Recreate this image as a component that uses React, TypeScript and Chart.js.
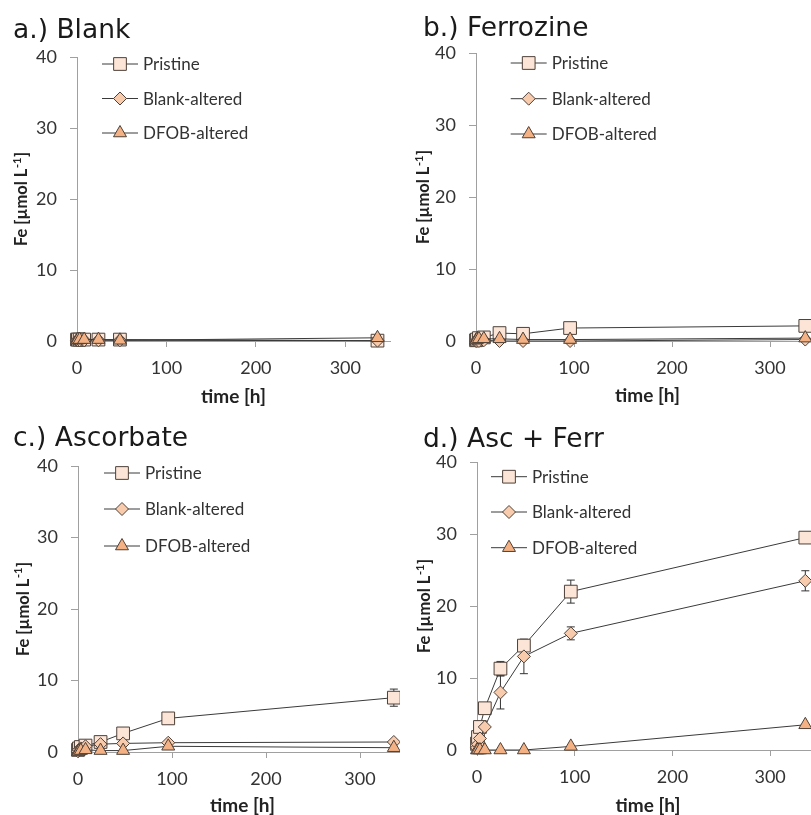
import React, { useEffect, useRef } from 'react';
import { Chart, registerables } from 'chart.js';

Chart.register(...registerables);

// ---------- data ----------
const times = [0, 1, 3, 8, 24, 48, 96, 336];
const xTickValues = [0, 100, 200, 300];
const yTickValues = [0, 10, 20, 30, 40];
const seriesLabels = ['Pristine', 'Blank-altered', 'DFOB-altered'];
const panelTitles = ['a.) Blank', 'b.) Ferrozine', 'c.) Ascorbate', 'd.) Asc + Ferr'];
const yAxisTitleParts = ['Fe [µmol L', '-1', ']'];
const xAxisTitle = 'time [h]';

// a.) Blank (no 96 h sample)
const blankPristine = [0.2, 0.2, 0.2, 0.2, 0.2, 0.2, null, 0.05];
const blankBlankAlt = [0.1, 0.1, 0.1, 0.1, 0.1, 0.1, null, 0.05];
const blankDfob = [0.1, 0.2, 0.2, 0.2, 0.2, 0.1, null, 0.45];

// b.) Ferrozine
const ferPristine = [0.1, 0.2, 0.4, 0.5, 1.1, 1.0, 1.8, 2.1];
const ferBlankAlt = [0.0, 0.0, 0.0, 0.1, 0.0, 0.0, 0.0, 0.2];
const ferDfob = [0.1, 0.2, 0.3, 0.3, 0.3, 0.2, 0.2, 0.4];

// c.) Ascorbate
const ascPristine = [0.3, 0.5, 0.7, 0.9, 1.4, 2.6, 4.7, 7.6];
const ascPristineErr = [0, 0, 0, 0, 0, 0, 0, 1.2];
const ascBlankAlt = [0.1, 0.3, 0.5, 0.8, 1.1, 1.2, 1.3, 1.4];
const ascDfob = [0.0, 0.1, 0.2, 0.3, 0.2, 0.2, 0.8, 0.6];

// d.) Asc + Ferr
const afPristine = [0.9, 1.8, 3.2, 5.8, 11.3, 14.5, 22.0, 29.5];
const afPristineErr = [0, 0, 0, 0, 1.0, 0.6, 1.6, 0.3];
const afBlankAlt = [0.3, 0.8, 1.6, 3.2, 8.0, 13.0, 16.2, 23.5];
const afBlankAltErr = [0, 0, 0, 0, 2.3, 2.4, 0.9, 1.4];
const afDfob = [0.0, 0.0, 0.0, 0.0, 0.0, 0.0, 0.5, 3.5];

const noErr = [0, 0, 0, 0, 0, 0, 0, 0];

// ---------- styles ----------
const fills = ['#fce4d6', '#f8cbad', '#f4b183'];
const pointStyles = ['rect', 'rectRot', 'triangle'];
const radii = [9, 6.5, 7.5];
const lineColor = '#3a3a3a';
const markerBorder = '#4d4038';
const axisColor = '#a0a0a0';
const textColor = '#333333';

const panels = [
  {
    title: panelTitles[0], series: [blankPristine, blankBlankAlt, blankDfob], errs: [noErr, noErr, noErr],
    box: { left: 0, top: 0, w: 400, h: 410 }, canvas: { w: 400, h: 410 },
    x0: 77, right: 393.75, yTop: 57, yBot: 341, xTitleY: 397, yTitleX: 21.7,
    titleX: 13, titleBase: 38.3, legX: 102, legRows: [64, 98.5, 133],
  },
  {
    title: panelTitles[1], series: [ferPristine, ferBlankAlt, ferDfob], errs: [noErr, noErr, noErr],
    box: { left: 400, top: 0, w: 411, h: 410 }, canvas: { w: 440, h: 410 },
    x0: 76, right: 419, yTop: 53, yBot: 341, xTitleY: 396, yTitleX: 24,
    titleX: 23, titleBase: 36, legX: 110.7, legRows: [63, 98.7, 134],
  },
  {
    title: panelTitles[2], series: [ascPristine, ascBlankAlt, ascDfob], errs: [ascPristineErr, noErr, noErr],
    box: { left: 0, top: 410, w: 400, h: 405 }, canvas: { w: 430, h: 410 },
    x0: 78, right: 407, yTop: 56, yBot: 342, xTitleY: 396, yTitleX: 23.3,
    titleX: 13, titleBase: 36, legX: 104, legRows: [63, 99, 136],
  },
  {
    title: panelTitles[3], series: [afPristine, afBlankAlt, afDfob], errs: [afPristineErr, afBlankAltErr, noErr],
    box: { left: 400, top: 410, w: 411, h: 405 }, canvas: { w: 440, h: 410 },
    x0: 77, right: 419, yTop: 52, yBot: 340, xTitleY: 396, yTitleX: 25,
    titleX: 23, titleBase: 36.7, legX: 91, legRows: [66.7, 102, 137.7],
  },
];

function drawMarker(ctx: CanvasRenderingContext2D, style: string, x: number, y: number, r: number) {
  ctx.beginPath();
  if (style === 'rect') {
    const s = r * Math.SQRT1_2;
    ctx.rect(x - s, y - s, 2 * s, 2 * s);
  } else if (style === 'rectRot') {
    ctx.moveTo(x - r, y);
    ctx.lineTo(x, y - r);
    ctx.lineTo(x + r, y);
    ctx.lineTo(x, y + r);
    ctx.closePath();
  } else {
    for (let k = 0; k < 3; k++) {
      const a = (k * 2 * Math.PI) / 3;
      const px = x + Math.sin(a) * r;
      const py = y - Math.cos(a) * r;
      if (k === 0) ctx.moveTo(px, py);
      else ctx.lineTo(px, py);
    }
    ctx.closePath();
  }
  ctx.fill();
  ctx.stroke();
}

function Panel({ cfg }: { cfg: any }) {
  const ref = useRef<HTMLCanvasElement>(null);
  useEffect(() => {
    const W = cfg.canvas.w;
    const H = cfg.canvas.h;
    const xTitleFont = 19;
    const xScaleH = cfg.xTitleY - cfg.yBot + (xTitleFont * 1.2) / 2;

    const overlay = {
      id: 'overlay',
      beforeDatasetsDraw(chart: any) {
        const ctx = chart.ctx as CanvasRenderingContext2D;
        const xs = chart.scales.x;
        const ys = chart.scales.y;
        ctx.save();
        ctx.strokeStyle = '#333333';
        ctx.lineWidth = 1;
        cfg.series.forEach((vals: (number | null)[], si: number) => {
          const errs = cfg.errs[si];
          vals.forEach((v, i) => {
            const e = errs[i];
            if (v === null || !e) return;
            const x = xs.getPixelForValue(times[i]);
            const y1 = ys.getPixelForValue(v + e);
            const y2 = ys.getPixelForValue(Math.max(0, v - e));
            ctx.beginPath();
            ctx.moveTo(x, y1);
            ctx.lineTo(x, y2);
            ctx.moveTo(x - 4, y1);
            ctx.lineTo(x + 4, y1);
            ctx.moveTo(x - 4, y2);
            ctx.lineTo(x + 4, y2);
            ctx.stroke();
          });
        });
        ctx.restore();
      },
      afterDraw(chart: any) {
        const ctx = chart.ctx as CanvasRenderingContext2D;
        ctx.save();
        // panel title
        ctx.fillStyle = '#1a1a1a';
        ctx.font = '26.5px "DejaVu Sans"';
        ctx.textAlign = 'left';
        ctx.textBaseline = 'alphabetic';
        ctx.fillText(cfg.title, cfg.titleX, cfg.titleBase);

        // y axis title with superscript
        const big = 'bold 16.5px Lato';
        const small = 'bold 11px Lato';
        ctx.font = big;
        const w1 = ctx.measureText(yAxisTitleParts[0]).width;
        const w3 = ctx.measureText(yAxisTitleParts[2]).width;
        ctx.font = small;
        const w2 = ctx.measureText(yAxisTitleParts[1]).width;
        const total = w1 + w2 + w3 + 1;
        const cy = (chart.chartArea.top + chart.chartArea.bottom) / 2;
        ctx.translate(cfg.yTitleX, cy);
        ctx.rotate(-Math.PI / 2);
        ctx.fillStyle = '#222222';
        ctx.textBaseline = 'middle';
        let sx = -total / 2;
        ctx.font = big;
        ctx.fillText(yAxisTitleParts[0], sx, 0);
        sx += w1 + 0.5;
        ctx.font = small;
        ctx.fillText(yAxisTitleParts[1], sx, -4.5);
        sx += w2 + 0.5;
        ctx.font = big;
        ctx.fillText(yAxisTitleParts[2], sx, 0);
        ctx.setTransform(1, 0, 0, 1, 0, 0);

        // legend
        ctx.font = '17px Lato';
        ctx.textBaseline = 'middle';
        seriesLabels.forEach((label, i) => {
          const y = cfg.legRows[i];
          ctx.strokeStyle = lineColor;
          ctx.lineWidth = 1;
          ctx.beginPath();
          ctx.moveTo(cfg.legX, y);
          ctx.lineTo(cfg.legX + 36, y);
          ctx.stroke();
          ctx.fillStyle = fills[i];
          ctx.strokeStyle = markerBorder;
          drawMarker(ctx, pointStyles[i], cfg.legX + 18, y, radii[i]);
          ctx.fillStyle = textColor;
          ctx.fillText(label, cfg.legX + 41, y + 1);
        });
        ctx.restore();
      },
    };

    const datasets = cfg.series.map((vals: (number | null)[], i: number) => ({
      label: seriesLabels[i],
      data: times.map((t, k) => ({ x: t, y: vals[k] })),
      borderColor: lineColor,
      borderWidth: 1,
      backgroundColor: fills[i],
      pointBackgroundColor: fills[i],
      pointBorderColor: markerBorder,
      pointBorderWidth: 1,
      pointStyle: pointStyles[i],
      pointRadius: radii[i],
      tension: 0,
      spanGaps: true,
      clip: false,
      order: 2 - i,
    }));

    const chart = new Chart(ref.current as HTMLCanvasElement, {
      type: 'line',
      data: { datasets },
      options: {
        responsive: false,
        animation: false,
        events: [],
        layout: {
          padding: {
            left: 0,
            top: cfg.yTop,
            right: W - cfg.right,
            bottom: H - cfg.yBot - xScaleH,
          },
        },
        plugins: {
          legend: { display: false },
          tooltip: { enabled: false },
          title: { display: false },
        },
        scales: {
          x: {
            type: 'linear',
            min: 0,
            max: 350,
            afterFit: (s: any) => {
              s.height = xScaleH;
            },
            afterBuildTicks: (s: any) => {
              s.ticks = xTickValues.map((v) => ({ value: v }));
            },
            grid: {
              display: true,
              drawOnChartArea: false,
              drawTicks: true,
              tickLength: 6,
              color: axisColor,
              lineWidth: 1,
            },
            border: { display: true, color: axisColor, width: 1 },
            ticks: {
              padding: 10,
              color: textColor,
              font: { family: 'Lato', size: 18 },
              maxRotation: 0,
            },
            title: {
              display: true,
              text: xAxisTitle,
              color: '#222222',
              font: { family: 'Lato', size: xTitleFont, weight: 'bold' },
              padding: 0,
            },
          },
          y: {
            type: 'linear',
            min: 0,
            max: 40,
            afterFit: (s: any) => {
              s.width = cfg.x0;
            },
            afterBuildTicks: (s: any) => {
              s.ticks = yTickValues.map((v) => ({ value: v }));
            },
            grid: {
              display: true,
              drawOnChartArea: false,
              drawTicks: true,
              tickLength: 7,
              color: axisColor,
              lineWidth: 1,
            },
            border: { display: true, color: axisColor, width: 1 },
            ticks: {
              padding: 13,
              color: textColor,
              font: { family: 'Lato', size: 18 },
            },
            title: { display: false },
          },
        },
      },
      plugins: [overlay],
    } as any);
    return () => chart.destroy();
  }, []);

  return (
    <div
      style={{
        position: 'absolute',
        left: cfg.box.left,
        top: cfg.box.top,
        width: cfg.box.w,
        height: cfg.box.h,
        overflow: 'hidden',
      }}
    >
      <canvas
        ref={ref}
        width={cfg.canvas.w}
        height={cfg.canvas.h}
        style={{ display: 'block', width: cfg.canvas.w, height: cfg.canvas.h }}
      />
    </div>
  );
}

export default function App() {
  return (
    <div
      style={{
        position: 'absolute',
        left: 0,
        top: 0,
        width: 811,
        height: 815,
        overflow: 'hidden',
        background: '#ffffff',
      }}
    >
      {panels.map((p, i) => (
        <Panel key={i} cfg={p} />
      ))}
    </div>
  );
}
